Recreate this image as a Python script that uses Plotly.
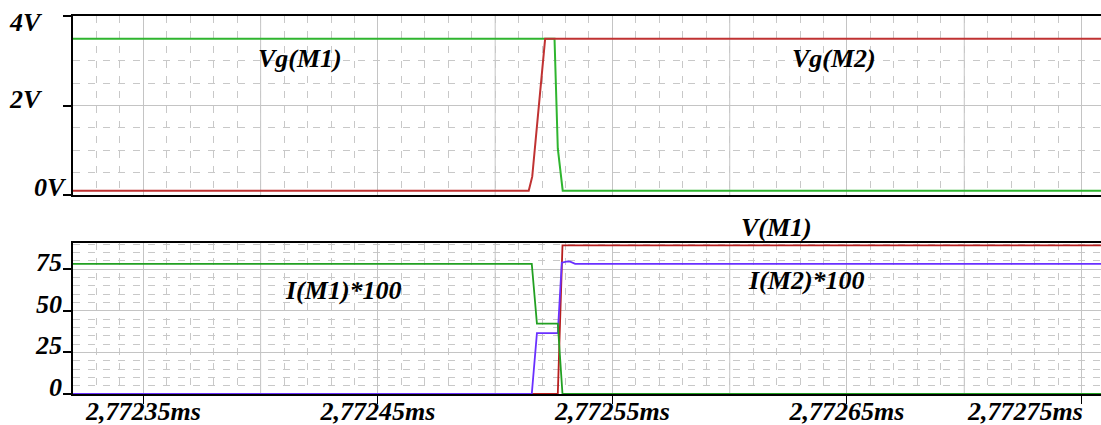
import plotly.graph_objects as go

# ---------------- data (time in ms) ----------------
# top panel: gate voltages (V)
t_vg_m1 = [2.77231, 2.7725253, 2.7725267, 2.7725288, 2.77277]
v_vg_m1 = [3.49, 3.49, 1.04, 0.096, 0.096]
t_vg_m2 = [2.77231, 2.7725143, 2.7725158, 2.7725213, 2.77277]
v_vg_m2 = [0.096, 0.096, 0.41, 3.49, 3.49]

# bottom panel
t_v_m1 = [2.77231, 2.7725267, 2.7725287, 2.77277]
v_v_m1 = [0, 0, 89.4, 89.4]
t_i_m2 = [2.77231, 2.7725156, 2.7725178, 2.7725267, 2.7725284, 2.7725308, 2.7725320, 2.7725341, 2.77277]
v_i_m2 = [0, 0, 36.6, 36.6, 79.0, 79.8, 79.6, 78.3, 78.3]
t_i_m1 = [2.77231, 2.7725156, 2.7725178, 2.7725267, 2.7725287, 2.77277]
v_i_m1 = [78.3, 78.3, 42.3, 42.3, 0, 0]

# axes
x_range = [2.77232, 2.7727583]
x_tick_vals = [2.77235, 2.77245, 2.77255, 2.77265, 2.77275]
x_tick_text = ["2,77235ms", "2,77245ms", "2,77255ms", "2,77265ms", "2,77275ms"]
x_half_grid = [2.7724, 2.7725, 2.7726, 2.7727]
top_y_range = [0, 4]
top_y_vals = [0, 2, 4]
top_y_text = ["0V", "2V", "4V"]
bot_y_range = [0, 90.8]
bot_y_vals = [0, 25, 50, 75]
bot_y_text = ["0", "25", "50", "75"]

# trace labels
labels = ["Vg(M1)", "Vg(M2)", "V(M1)", "I(M1)*100", "I(M2)*100"]

# ---------------- styling ----------------
W, H = 1101, 425
ML, MR, MT, MB = 73, 0, 16, 31
FONT = dict(family="Liberation Serif", size=26, color="black", weight="bold", style="italic")
GRID = "#c4c4c4"
MINOR = "#c8c8c8"
DASH = "7px,8px"

RED_T, GREEN_T = "#c03232", "#2fb52f"
RED_B, PURPLE_B, GREEN_B = "#b81e1e", "#6a30ff", "#22a022"

fig = go.Figure()
fig.add_trace(go.Scatter(x=t_vg_m1, y=v_vg_m1, mode="lines", line=dict(color=GREEN_T, width=2), xaxis="x", yaxis="y"))
fig.add_trace(go.Scatter(x=t_vg_m2, y=v_vg_m2, mode="lines", line=dict(color=RED_T, width=2), xaxis="x", yaxis="y"))
fig.add_trace(go.Scatter(x=t_v_m1, y=v_v_m1, mode="lines", line=dict(color=RED_B, width=1.8), xaxis="x2", yaxis="y2"))
fig.add_trace(go.Scatter(x=t_i_m2, y=v_i_m2, mode="lines", line=dict(color=PURPLE_B, width=1.8), xaxis="x2", yaxis="y2"))
fig.add_trace(go.Scatter(x=t_i_m1, y=v_i_m1, mode="lines", line=dict(color=GREEN_B, width=1.8), xaxis="x2", yaxis="y2"))

plot_h = H - MT - MB
plot_bottom = H - MB
top_dom = [(plot_bottom - 195) / plot_h, 1.0]
bot_dom = [0.0, (plot_bottom - 243) / plot_h]

# the last label sits at the right edge, so it is drawn right-aligned as an annotation
axis_tick_text = x_tick_text[:-1] + [""]

xcommon = dict(
    range=x_range, tickvals=x_tick_vals, showgrid=True, gridcolor=GRID, gridwidth=1,
    minor=dict(dtick=0.00001, tick0=2.77235, showgrid=True, gridcolor=MINOR, griddash=DASH, gridwidth=1),
    showline=True, linecolor="black", linewidth=2, mirror=True, zeroline=False, automargin=False,
)
ycommon = dict(
    showgrid=True, gridcolor=GRID, gridwidth=1, showline=True, linecolor="black", linewidth=2,
    ticks="outside", ticklen=8, tickcolor="black", tickwidth=1.5, showticklabels=False,
    zeroline=False, automargin=False,
)

fig.update_layout(
    width=W, height=H, template="none",
    margin=dict(l=ML, r=MR, t=MT, b=MB, pad=0, autoexpand=False),
    paper_bgcolor="white", plot_bgcolor="rgba(0,0,0,0)", showlegend=False,
    xaxis=dict(xcommon, domain=[0, 1], anchor="y", ticks="", showticklabels=False),
    xaxis2=dict(xcommon, domain=[0, 1], anchor="y2", ticktext=axis_tick_text,
                ticks="outside", ticklen=8, tickcolor="black", tickwidth=1, showticklabels=True,
                tickfont=FONT, ticklabelstandoff=-15),
    yaxis=dict(ycommon, domain=top_dom, anchor="x", range=top_y_range, tickvals=top_y_vals,
               minor=dict(dtick=0.5, tick0=0, showgrid=True, gridcolor=MINOR, griddash=DASH, gridwidth=1)),
    yaxis2=dict(ycommon, domain=bot_dom, anchor="x2", range=bot_y_range, tickvals=bot_y_vals,
                minor=dict(dtick=5, tick0=0, showgrid=True, gridcolor=MINOR, griddash=DASH, gridwidth=1)),
)

# solid gridlines at half-label spacing
shapes = []
for xv in x_half_grid:
    for xr, yr in (("x", "y domain"), ("x2", "y2 domain")):
        shapes.append(dict(type="line", xref=xr, yref=yr, x0=xv, x1=xv, y0=0, y1=1,
                           line=dict(color=GRID, width=1), layer="below"))
fig.update_layout(shapes=shapes)

ann = []
# last x tick label, right-aligned to its tick
ann.append(dict(text=x_tick_text[-1], xref="x2", yref="paper", x=x_tick_vals[-1], y=0,
                xanchor="right", yanchor="top", xshift=3, yshift=-1, showarrow=False, font=FONT))
# y tick labels (drawn as annotations for per-label placement)
top_label_style = {"0V": (-4, 7.5), "2V": (-28, 6.5), "4V": (-28, -6.5)}
for v, txt in zip(top_y_vals, top_y_text):
    xs, ys = top_label_style[txt]
    ann.append(dict(text=txt, xref="paper", yref="y", x=0, y=v, xanchor="right", yanchor="middle",
                    xshift=xs, yshift=ys, showarrow=False, font=FONT))
for v, txt in zip(bot_y_vals, bot_y_text):
    ann.append(dict(text=txt, xref="paper", yref="y2", x=0, y=v, xanchor="right", yanchor="middle",
                    xshift=-9, yshift=6.5, showarrow=False, font=FONT))

# trace name labels (pixel centres -> paper coords)
label_px = [(300, 59), (834, 59), (776.7, 227.5), (343.3, 290.8), (806.7, 280.5)]
pw = W - ML - MR
for txt, (px, py) in zip(labels, label_px):
    ann.append(dict(text=txt, xref="paper", yref="paper",
                    x=(px - ML) / pw, y=(plot_bottom - py) / plot_h,
                    xanchor="center", yanchor="middle", showarrow=False, font=FONT))
fig.update_layout(annotations=ann)

fig.write_html(
    "out.html",
    config={"displayModeBar": False},
    post_script="document.body.style.margin='0';document.documentElement.style.overflow='hidden';",
)
